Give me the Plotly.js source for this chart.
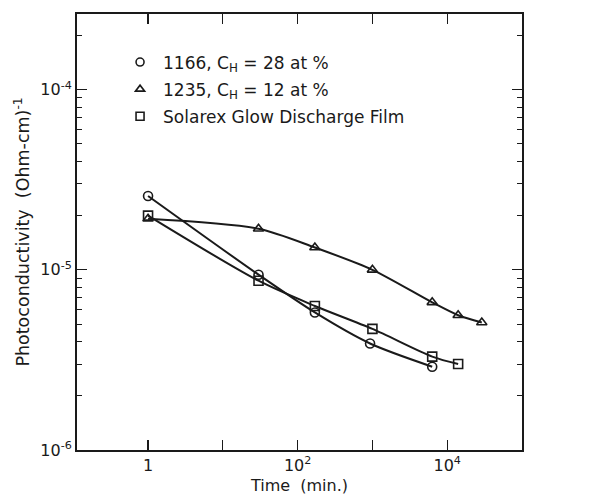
<!DOCTYPE html>
<html><head><meta charset="utf-8">
<script src="https://cdn.plot.ly/plotly-3.0.1.min.js"></script>
<style>body{margin:0;background:#fff}#chart{width:610px;height:500px}</style>
</head><body><div id="chart"></div>
<script>
// Data (time in minutes, photoconductivity in (Ohm-cm)^-1)
const seriesNames = ["1166, C<sub>H</sub> = 28 at %", "1235, C<sub>H</sub> = 12 at %", "Solarex Glow Discharge Film"];
const t1166 = [1, 30, 170, 930, 6300];
const s1166 = [2.57e-5, 9.4e-6, 5.8e-6, 3.9e-6, 2.9e-6];
const t1235 = [1, 30, 170, 1000, 6300, 14000, 29000];
const s1235 = [1.92e-5, 1.69e-5, 1.33e-5, 1.0e-5, 6.6e-6, 5.6e-6, 5.1e-6];
const tSolarex = [1, 30, 170, 1000, 6300, 14000];
const sSolarex = [2.0e-5, 8.7e-6, 6.3e-6, 4.7e-6, 3.3e-6, 3.0e-6];
const xTickVals = [1, 10, 100, 1000, 10000];
const xTickText = ["1", "", "10<sup>2</sup>", "", "10<sup>4</sup>"];
const yTickVals = [1e-6, 1e-5, 1e-4];
const yTickText = ["10<sup>-6</sup>", "10<sup>-5</sup>", "10<sup>-4</sup>"];
const minorMult = [2,3,4,5,6,7,8,9];
const minorDecades = [1e-6, 1e-5, 1e-4];

const yMinor = [];
minorDecades.forEach(d => minorMult.forEach(m => yMinor.push(d*m)));

const ink = "#1a1a1a";
const symbols = ["circle-open", "triangle-up-open", "square-open"];
const xs = [t1166, t1235, tSolarex];
const ys = [s1166, s1235, sSolarex];

const traces = [];
for (let i = 0; i < 3; i++) {
  traces.push({x: xs[i], y: ys[i], mode: "lines+markers", showlegend: false,
    line: {color: ink, width: 2, shape: "spline", smoothing: 0.8},
    marker: {symbol: symbols[i], size: 9, color: ink, line: {width: 1.6, color: ink}}});
}
for (let i = 0; i < 3; i++) {
  traces.push({x: [null], y: [null], mode: "markers", name: seriesNames[i], showlegend: true,
    legendgroup: "g" + i,
    marker: {symbol: symbols[i], size: 8, color: ink, line: {width: 1.6, color: ink}}});
}
// invisible trace to carry the minor-tick overlay axis
traces.push({x: [null], y: [null], yaxis: "y2", showlegend: false, hoverinfo: "skip"});

const fam = "DejaVu Sans, Liberation Sans, sans-serif";
const f = s => ({family: fam, color: ink, size: s});
const layout = {
  width: 610, height: 500,
  margin: {l: 77, r: 88, t: 14, b: 50},
  paper_bgcolor: "#fff", plot_bgcolor: "#fff",
  font: f(15),
  showlegend: true,
  legend: {x: 0.09, y: 0.93, xanchor: "left", yanchor: "top", bgcolor: "rgba(0,0,0,0)",
    font: f(17), itemwidth: 36, tracegroupgap: 2},
  xaxis: {type: "log", range: [-0.95, 5], showgrid: false, zeroline: false,
    showline: true, linecolor: ink, linewidth: 2, mirror: "ticks",
    ticks: "inside", ticklen: 10, tickwidth: 1.2, tickcolor: ink,
    tickvals: xTickVals, ticktext: xTickText, tickfont: f(16),
    title: {text: "Time  (min.)", font: f(16), standoff: 6}},
  yaxis: {type: "log", range: [-6, -3.58], showgrid: false, zeroline: false,
    showline: true, linecolor: ink, linewidth: 2, mirror: "ticks",
    ticks: "inside", ticklen: 10, tickwidth: 1.2, tickcolor: ink,
    tickvals: yTickVals, ticktext: yTickText, tickfont: f(16),
    title: {text: "Photoconductivity  (Ohm-cm)<sup>-1</sup>", font: f(17.5), standoff: 6}},
  yaxis2: {type: "log", range: [-6, -3.58], overlaying: "y", side: "left",
    showgrid: false, zeroline: false, showline: false, mirror: "ticks",
    ticks: "inside", ticklen: 5, tickwidth: 1, tickcolor: ink,
    tickvals: yMinor, showticklabels: false}
};
Plotly.newPlot("chart", traces, layout, {displayModeBar: false, staticPlot: true});
</script></body></html>
